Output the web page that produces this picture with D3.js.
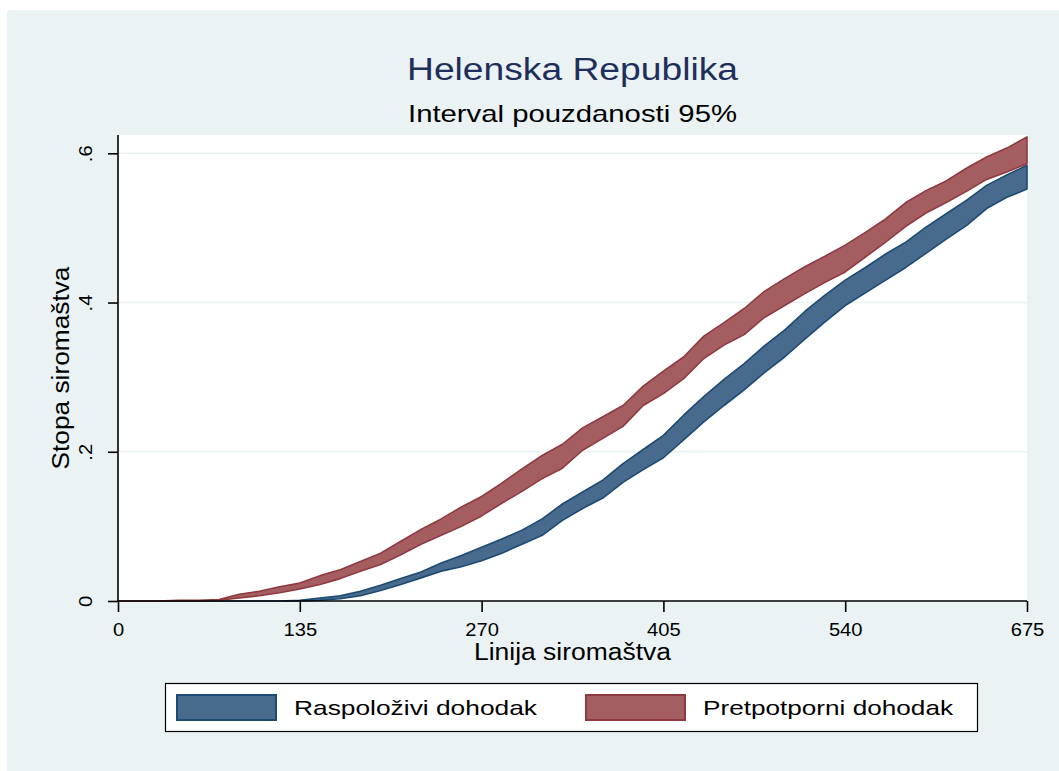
<!DOCTYPE html>
<html>
<head>
<meta charset="utf-8">
<script src="https://cdn.jsdelivr.net/npm/d3@7"></script>
<style>
  html, body { margin: 0; padding: 0; background: #ffffff; }
  svg { display: block; font-family: "Liberation Sans", Arial, sans-serif; }
</style>
</head>
<body>
<div id="chart"></div>
<script>
// poverty line values (x) and 95% confidence bands
const povertyLine = [0, 15, 30, 45, 60, 75, 90, 105, 120, 135, 150, 165, 180, 195, 210, 225, 240, 255,
  270, 285, 300, 315, 330, 345, 360, 375, 390, 405, 420, 435, 450, 465, 480, 495, 510, 525, 540,
  555, 570, 585, 600, 615, 630, 645, 660, 675];

const disposableUpper = [0, 0, 0, 0, 0, 0, 0, 0, 0, 0.001, 0.004, 0.007, 0.013, 0.021, 0.030, 0.039,
  0.051, 0.061, 0.072, 0.083, 0.095, 0.110, 0.130, 0.146, 0.162, 0.184, 0.203, 0.222, 0.249, 0.274,
  0.297, 0.318, 0.342, 0.363, 0.388, 0.410, 0.430, 0.447, 0.465, 0.481, 0.501, 0.519, 0.537, 0.557,
  0.571, 0.584];
const disposableLower = [0, 0, 0, 0, 0, 0, 0, 0, 0, 0, 0.001, 0.003, 0.007, 0.014, 0.022, 0.031,
  0.040, 0.046, 0.054, 0.064, 0.076, 0.088, 0.108, 0.124, 0.138, 0.159, 0.176, 0.192, 0.216, 0.240,
  0.262, 0.283, 0.306, 0.327, 0.351, 0.374, 0.396, 0.413, 0.430, 0.447, 0.466, 0.485, 0.503, 0.526,
  0.541, 0.552];

const pretransferUpper = [0, 0, 0, 0.001, 0.001, 0.002, 0.009, 0.013, 0.019, 0.024, 0.034, 0.042,
  0.053, 0.064, 0.080, 0.096, 0.110, 0.126, 0.140, 0.158, 0.177, 0.195, 0.210, 0.232, 0.247, 0.262,
  0.288, 0.308, 0.327, 0.355, 0.373, 0.392, 0.415, 0.432, 0.448, 0.462, 0.477, 0.494, 0.512, 0.534,
  0.550, 0.563, 0.580, 0.595, 0.607, 0.622];
const pretransferLower = [0, 0, 0, 0, 0.0005, 0.001, 0.004, 0.007, 0.011, 0.016, 0.022, 0.030,
  0.040, 0.049, 0.062, 0.076, 0.088, 0.100, 0.114, 0.131, 0.147, 0.164, 0.178, 0.202, 0.218, 0.234,
  0.262, 0.278, 0.298, 0.325, 0.343, 0.357, 0.380, 0.396, 0.412, 0.427, 0.441, 0.461, 0.481, 0.502,
  0.520, 0.534, 0.549, 0.565, 0.575, 0.586];

const xTicks = [0, 135, 270, 405, 540, 675];
const yTicks = [0, 0.2, 0.4, 0.6];
const seriesNames = ['Raspoloživi dohodak', 'Pretpotporni dohodak'];

const width = 1059;
const height = 771;
const plot = { left: 118, right: 1027, top: 135, bottom: 601 };
const bg = '#eaf2f3';
const colors = [
  { fill: '#486b8d', stroke: '#1d4a73' },
  { fill: '#a45e62', stroke: '#903a3f' }
];

// stretch text to mimic the wider Stata glyphs
function stretch(sel, factor) {
  sel.each(function () {
    const len = this.getComputedTextLength();
    d3.select(this).attr('textLength', len * factor).attr('lengthAdjust', 'spacingAndGlyphs');
  });
}

const svg = d3.select('#chart')
  .append('svg')
  .attr('width', width)
  .attr('height', height);

svg.append('rect')
  .attr('x', 7).attr('y', 10)
  .attr('width', width - 7).attr('height', height - 10)
  .attr('fill', bg);

svg.append('rect')
  .attr('x', plot.left).attr('y', plot.top)
  .attr('width', plot.right - plot.left).attr('height', plot.bottom - plot.top)
  .attr('fill', '#ffffff');

const x = d3.scaleLinear().domain([0, 675]).range([plot.left, plot.right]);
const y = d3.scaleLinear().domain([0, 0.6]).range([plot.bottom, 153.3]);

// grid
svg.append('g')
  .selectAll('line')
  .data(yTicks.filter((d) => d > 0))
  .join('line')
  .attr('x1', plot.left).attr('x2', plot.right)
  .attr('y1', (d) => y(d)).attr('y2', (d) => y(d))
  .attr('stroke', bg)
  .attr('stroke-width', 1.6);

// bands
const bands = [
  povertyLine.map((v, i) => ({ x: v, lo: disposableLower[i], hi: disposableUpper[i] })),
  povertyLine.map((v, i) => ({ x: v, lo: pretransferLower[i], hi: pretransferUpper[i] }))
];

const area = d3.area()
  .x((d) => x(d.x))
  .y0((d) => y(d.lo))
  .y1((d) => y(d.hi));

svg.append('g')
  .selectAll('path')
  .data(bands)
  .join('path')
  .attr('d', (d) => area(d))
  .attr('fill', (d, i) => colors[i].fill)
  .attr('stroke', (d, i) => colors[i].stroke)
  .attr('stroke-width', 1.6)
  .attr('stroke-linejoin', 'round');

// axes
const yAxis = svg.append('g')
  .attr('transform', `translate(${plot.left},0)`)
  .call(d3.axisLeft(y)
    .tickValues(yTicks)
    .tickSize(10)
    .tickFormat((d) => (d === 0 ? '0' : d3.format('.1f')(d).replace(/^0/, ''))));
yAxis.select('.domain')
  .attr('d', `M0,${plot.top}V${plot.bottom}`)
  .attr('stroke-width', 1.6);
yAxis.selectAll('.tick line').attr('stroke-width', 1.6);
yAxis.selectAll('.tick text')
  .attr('transform', 'rotate(-90)')
  .attr('x', 0)
  .attr('y', -26)
  .attr('dy', 0)
  .attr('text-anchor', 'middle')
  .attr('font-size', 18)
  .attr('font-family', null)
  .attr('fill', '#000');

const xAxis = svg.append('g')
  .attr('transform', `translate(0,${plot.bottom})`)
  .call(d3.axisBottom(x).tickValues(xTicks).tickSize(11));
xAxis.select('.domain')
  .attr('d', `M${plot.left},0H${plot.right}`)
  .attr('stroke-width', 1.6);
xAxis.selectAll('.tick line').attr('stroke-width', 1.6);
xAxis.selectAll('.tick text')
  .attr('y', 35)
  .attr('dy', 0)
  .attr('font-size', 18)
  .attr('font-family', null)
  .attr('fill', '#000');

svg.selectAll('.tick text').call(stretch, 1.12);

// titles
const cx = (plot.left + plot.right) / 2;
svg.append('text')
  .attr('x', cx).attr('y', 80)
  .attr('text-anchor', 'middle')
  .attr('font-size', 31)
  .attr('fill', '#1e2f5c')
  .attr('textLength', 331).attr('lengthAdjust', 'spacingAndGlyphs')
  .text('Helenska Republika');

svg.append('text')
  .attr('x', cx).attr('y', 122)
  .attr('text-anchor', 'middle')
  .attr('font-size', 24)
  .attr('fill', '#000')
  .attr('textLength', 329).attr('lengthAdjust', 'spacingAndGlyphs')
  .text('Interval pouzdanosti 95%');

svg.append('text')
  .attr('x', cx).attr('y', 660)
  .attr('text-anchor', 'middle')
  .attr('font-size', 23)
  .attr('fill', '#000')
  .attr('textLength', 197).attr('lengthAdjust', 'spacingAndGlyphs')
  .text('Linija siromaštva');

svg.append('text')
  .attr('transform', `translate(69,${(plot.top + plot.bottom) / 2}) rotate(-90)`)
  .attr('text-anchor', 'middle')
  .attr('font-size', 23)
  .attr('fill', '#000')
  .attr('textLength', 203).attr('lengthAdjust', 'spacingAndGlyphs')
  .text('Stopa siromaštva');

// legend
svg.append('rect')
  .attr('x', 165.5).attr('y', 683.5)
  .attr('width', 812).attr('height', 48)
  .attr('fill', '#ffffff')
  .attr('stroke', '#000')
  .attr('stroke-width', 1.2);

const legendKeys = [176, 585];
const legendTextLen = [243, 250];
const legend = svg.append('g')
  .selectAll('g')
  .data(seriesNames)
  .join('g')
  .attr('transform', (d, i) => `translate(${legendKeys[i]},694)`);

legend.append('rect')
  .attr('x', 1).attr('y', 1)
  .attr('width', 99).attr('height', 25)
  .attr('fill', (d, i) => colors[i].fill)
  .attr('stroke', (d, i) => colors[i].stroke)
  .attr('stroke-width', 2);

legend.append('text')
  .attr('x', 118).attr('y', 21)
  .attr('font-size', 21)
  .attr('fill', '#000')
  .attr('textLength', (d, i) => legendTextLen[i])
  .attr('lengthAdjust', 'spacingAndGlyphs')
  .text((d) => d);
</script>
</body>
</html>
